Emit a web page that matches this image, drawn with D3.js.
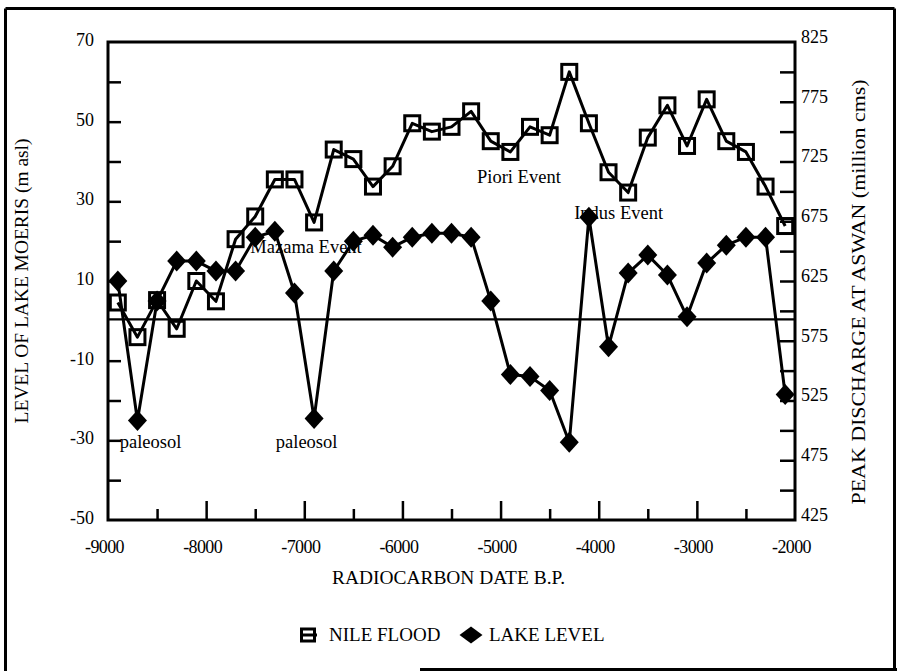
<!DOCTYPE html>
<html>
<head>
<meta charset="utf-8">
<script src="https://cdn.jsdelivr.net/npm/d3@7"></script>
<style>
  html, body { margin: 0; padding: 0; background: #fff; }
  svg { display: block; }
  text { font-family: "Liberation Serif", "Times New Roman", Times, serif; fill: #000; }
</style>
</head>
<body>
<svg id="chart" width="897" height="671"></svg>
<script>
// Radiocarbon dates (years B.P., shown as negative values)
const years = [-8900, -8700, -8500, -8300, -8100, -7900, -7700, -7500, -7300, -7100,
               -6900, -6700, -6500, -6300, -6100, -5900, -5700, -5500, -5300, -5100,
               -4900, -4700, -4500, -4300, -4100, -3900, -3700, -3500, -3300, -3100,
               -2900, -2700, -2500, -2300, -2100];

// Peak Nile discharge at Aswan (million cms) – right axis
const nileFlood = [607, 578, 609, 585, 625, 608, 660, 679, 710, 710,
                   674, 735, 727, 704, 721, 757, 750, 754, 767, 742,
                   733, 754, 747, 800, 757, 716, 699, 745, 772, 738,
                   777, 742, 733, 704, 671];

// Level of Lake Moeris (m asl) – left axis
const lakeLevel = [10, -25, 5, 15, 15, 12.5, 12.5, 21, 22.5, 7,
                   -24.5, 12.5, 20, 21.5, 18.5, 21, 22, 22, 21, 5,
                   -13.5, -14, -17.5, -30.5, 26, -6.5, 12, 16.5, 11.5, 1,
                   14.5, 19, 21, 21, -18.5];

// Axis ticks and labels
const xMajorTicks = [-8000, -7000, -6000, -5000, -4000, -3000];
const xMinorTicks = [-8500, -7500, -6500, -5500, -4500, -3500, -2500];
const xLabels = [-9000, -8000, -7000, -6000, -5000, -4000, -3000, -2000];
const leftTicks = [-40, -30, -20, -10, 10, 20, 30, 40, 50, 60];
const leftLabels = [-50, -30, -10, 10, 30, 50, 70];
const rightTicks = [450, 475, 500, 525, 550, 575, 600, 625, 650, 675, 700, 725, 750, 775, 800];
const rightLabels = [425, 475, 525, 575, 625, 675, 725, 775, 825];

// Event annotations, anchored in data coordinates (year, lake level)
const events = [
  { text: "paleosol", year: -8880, level: -32 },
  { text: "paleosol", year: -7290, level: -32 },
  { text: "Mazama Event", year: -7550, level: 17 },
  { text: "Piori Event", year: -5240, level: 34.5 },
  { text: "Indus Event", year: -4250, level: 25.5 }
];

const legendItems = [
  { label: "NILE FLOOD", kind: "square" },
  { label: "LAKE LEVEL", kind: "diamond" }
];

const svg = d3.select("#chart");
const L = 108, R = 795, T = 42, B = 520;
const plain = d => String(d);

const x = d3.scaleLinear().domain([-9000, -2000]).range([L, R]);
const yL = d3.scaleLinear().domain([-50, 70]).range([B, T]);
const yR = d3.scaleLinear().domain([425, 825]).range([B, T]);

// Outer figure border
const border = svg.append("g").attr("stroke", "#000").attr("stroke-width", 3);
border.append("line").attr("x1", 5.5).attr("y1", 8.5).attr("x2", 894.5).attr("y2", 8.5);
border.append("line").attr("x1", 5.5).attr("y1", 8.5).attr("x2", 5.5).attr("y2", 671);
border.append("line").attr("x1", 894.5).attr("y1", 8.5).attr("x2", 894.5).attr("y2", 671);
border.append("line").attr("x1", 420).attr("y1", 669.5).attr("x2", 897).attr("y2", 669.5);

// Zero reference line
svg.append("line")
  .attr("x1", L).attr("x2", R)
  .attr("y1", yL(0) - 1.5).attr("y2", yL(0) - 1.5)
  .attr("stroke", "#000").attr("stroke-width", 2.2);

// Axes
function styleAxis(g) {
  g.attr("font-family", null);
  g.select(".domain").remove();
  g.selectAll(".tick line").attr("stroke", "#000").attr("stroke-width", 2.5);
  g.selectAll(".tick text").attr("font-size", 18).attr("fill", "#000");
}

svg.append("g").attr("transform", `translate(${L},0)`)
  .call(d3.axisLeft(yL).tickValues(leftTicks).tickSize(-13).tickFormat(""))
  .call(styleAxis);
svg.append("g").attr("transform", `translate(${L},0)`)
  .call(d3.axisLeft(yL).tickValues(leftLabels).tickSize(0).tickPadding(14).tickFormat(plain))
  .call(styleAxis)
  .call(g => g.selectAll(".tick text").attr("dy", "0.2em"));

svg.append("g").attr("transform", `translate(${R},0)`)
  .call(d3.axisRight(yR).tickValues(rightTicks).tickSize(-15).tickFormat(""))
  .call(styleAxis);
svg.append("g").attr("transform", `translate(${R},0)`)
  .call(d3.axisRight(yR).tickValues(rightLabels).tickSize(0).tickPadding(6).tickFormat(plain))
  .call(styleAxis)
  .call(g => g.selectAll(".tick text").attr("dy", "0.02em"));

svg.append("g").attr("transform", `translate(0,${B})`)
  .call(d3.axisBottom(x).tickValues(xMajorTicks).tickSize(-19).tickFormat(""))
  .call(styleAxis);
svg.append("g").attr("transform", `translate(0,${B})`)
  .call(d3.axisBottom(x).tickValues(xMinorTicks).tickSize(-11).tickFormat(""))
  .call(styleAxis);
svg.append("g").attr("transform", `translate(0,${B})`)
  .call(d3.axisBottom(x).tickValues(xLabels).tickSize(0).tickPadding(20).tickFormat(plain))
  .call(styleAxis)
  .call(g => g.selectAll(".tick text").attr("dx", -4).attr("letter-spacing", -0.6));

// Plot frame
svg.append("rect")
  .attr("x", L).attr("y", T).attr("width", R - L).attr("height", B - T)
  .attr("fill", "none").attr("stroke", "#000").attr("stroke-width", 3);

// Axis titles
svg.append("text")
  .attr("x", (L + R) / 2 - 3).attr("y", 584)
  .attr("text-anchor", "middle").attr("font-size", 19)
  .attr("textLength", 233).attr("lengthAdjust", "spacingAndGlyphs")
  .text("RADIOCARBON DATE B.P.");

svg.append("text")
  .attr("transform", "translate(28,281) rotate(-90)")
  .attr("text-anchor", "middle").attr("font-size", 19)
  .attr("textLength", 285).attr("lengthAdjust", "spacingAndGlyphs")
  .text("LEVEL OF LAKE MOERIS (m asl)");

svg.append("text")
  .attr("transform", "translate(865,292) rotate(-90)")
  .attr("text-anchor", "middle").attr("font-size", 19)
  .attr("textLength", 425).attr("lengthAdjust", "spacingAndGlyphs")
  .text("PEAK DISCHARGE AT ASWAN (million cms)");

// Series lines
const nileLine = d3.line().x((d, i) => x(years[i])).y(d => yR(d));
const lakeLine = d3.line().x((d, i) => x(years[i])).y(d => yL(d));

svg.append("path").datum(nileFlood)
  .attr("d", nileLine).attr("fill", "none")
  .attr("stroke", "#000").attr("stroke-width", 3).attr("stroke-linejoin", "round");

svg.append("path").datum(lakeLevel)
  .attr("d", lakeLine).attr("fill", "none")
  .attr("stroke", "#000").attr("stroke-width", 3).attr("stroke-linejoin", "round");

// Markers
const diamond = (cx, cy, w, h) =>
  `M${cx},${cy - h / 2}L${cx + w / 2},${cy}L${cx},${cy + h / 2}L${cx - w / 2},${cy}Z`;

svg.append("g").selectAll("path")
  .data(lakeLevel)
  .join("path")
  .attr("d", (d, i) => diamond(x(years[i]), yL(d), 19, 21))
  .attr("fill", "#000");

svg.append("g").selectAll("rect")
  .data(nileFlood)
  .join("rect")
  .attr("x", (d, i) => x(years[i]) - 7.5)
  .attr("y", d => yR(d) - 7.5)
  .attr("width", 15).attr("height", 15)
  .attr("fill", "none").attr("stroke", "#000").attr("stroke-width", 3);

// Event annotations
svg.append("g").selectAll("text")
  .data(events)
  .join("text")
  .attr("x", d => x(d.year))
  .attr("y", d => yL(d.level))
  .attr("font-size", 18.5)
  .text(d => d.text);

// Legend
const legend = svg.append("g");
const lg0 = legend.append("g").attr("transform", "translate(308,635)");
lg0.append("rect").attr("x", -6.5).attr("y", -6).attr("width", 13).attr("height", 12)
  .attr("fill", "none").attr("stroke", "#000").attr("stroke-width", 3);
lg0.append("line").attr("x1", -7).attr("x2", 9).attr("y1", 0).attr("y2", 0)
  .attr("stroke", "#000").attr("stroke-width", 3);
legend.append("text").attr("x", 329).attr("y", 641).attr("font-size", 19).text(legendItems[0].label);

legend.append("path").attr("d", diamond(471, 635, 23, 17)).attr("fill", "#000");
legend.append("text").attr("x", 489).attr("y", 641).attr("font-size", 19).text(legendItems[1].label);
</script>
</body>
</html>
